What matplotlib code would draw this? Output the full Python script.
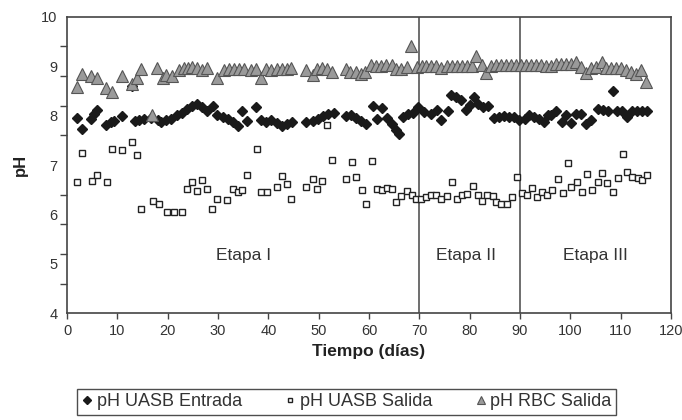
import matplotlib
matplotlib.use('Agg')
import matplotlib.pyplot as plt
import numpy as np

# 数据：pH UASB 入口 (菱形)
entrada_dia = [1.9, 3.0, 4.7, 5.4, 5.9, 7.7, 8.7, 9.3, 11.0, 13.0, 13.5, 14.3, 15.3, 16.6, 18.0, 18.6,
               19.6, 20.6, 21.9, 22.9, 23.9, 24.9, 25.9, 26.9, 27.8, 29.1, 29.9, 30.9, 31.9, 32.9, 33.9,
               34.7, 35.7, 37.5, 38.6, 39.5, 40.6, 41.8, 42.8, 43.8, 44.8, 47.5, 48.8, 49.8, 50.8, 51.8,
               53.0, 55.4, 56.4, 57.4, 58.4, 59.4, 60.7, 61.6, 62.5, 63.6, 64.5, 65.3, 66.0, 66.7, 67.7,
               68.7, 69.8, 71.0, 72.3, 73.6, 74.4, 75.6, 76.3, 77.3, 78.3, 79.3, 80.0, 80.8, 81.6, 82.6,
               83.6, 84.9, 85.9, 86.9, 87.9, 88.9, 89.9, 90.9, 91.8, 92.8, 93.8, 94.8, 95.6, 96.2, 97.1,
               98.3, 99.1, 100.1, 101.1, 102.1, 103.1, 104.1, 105.4, 106.4, 107.4, 108.4, 109.3, 110.2,
               111.3, 112.2, 113.3, 114.2, 115.2]
entrada_ph = [7.96, 7.73, 7.94, 8.04, 8.11, 7.81, 7.87, 7.89, 8.00, 8.60, 7.89, 7.91, 7.93, 7.96, 7.91, 7.86,
              7.91, 7.94, 8.01, 8.06, 8.14, 8.20, 8.24, 8.17, 8.09, 8.20, 8.02, 7.98, 7.94, 7.86, 7.78,
              8.09, 7.89, 8.18, 7.91, 7.86, 7.91, 7.84, 7.79, 7.82, 7.86, 7.86, 7.89, 7.94, 8.00, 8.04,
              8.06, 8.00, 8.01, 7.96, 7.89, 7.82, 8.20, 7.93, 8.16, 7.96, 7.82, 7.71, 7.62, 7.98, 8.03,
              8.06, 8.18, 8.08, 8.03, 8.11, 7.91, 8.09, 8.41, 8.38, 8.31, 8.11, 8.21, 8.38, 8.24, 8.18,
              8.20, 7.96, 7.98, 8.00, 7.98, 7.98, 7.91, 7.94, 8.01, 7.98, 7.93, 7.87, 8.01, 8.01, 8.09,
              7.86, 8.01, 7.84, 8.03, 8.04, 7.82, 7.91, 8.13, 8.11, 8.09, 8.49, 8.09, 8.09,
              7.98, 8.09, 8.09, 8.09, 8.09]

# pH UASB 出口 (空心方块)
salida_dia = [2.0, 2.9, 4.9, 5.9, 7.9, 8.9, 10.9, 12.9, 13.9, 14.8, 17.0, 18.3, 19.9, 21.3, 22.9, 23.9,
              24.9, 25.8, 26.9, 27.8, 28.9, 29.9, 31.8, 32.9, 33.9, 34.8, 35.8, 37.8, 38.5, 39.7, 41.7,
              42.7, 43.7, 44.6, 47.5, 48.8, 49.6, 50.6, 51.7, 52.6, 55.5, 56.7, 57.5, 58.7, 59.5, 60.5,
              61.5, 62.5, 63.5, 64.6, 65.4, 66.4, 67.6, 68.5, 69.4, 70.4, 71.4, 72.4, 73.4, 74.4, 75.4,
              76.5, 77.4, 78.4, 79.4, 80.6, 81.7, 82.4, 83.5, 84.6, 85.3, 86.3, 87.5, 88.4, 89.4, 90.3,
              91.4, 92.3, 93.4, 94.4, 95.4, 96.4, 97.5, 98.5, 99.5, 100.2, 101.4, 102.4, 103.4, 104.4,
              105.4, 106.3, 107.3, 108.4, 109.4, 110.4, 111.3, 112.3, 113.4, 114.3, 115.3]
salida_ph = [6.65, 7.24, 6.68, 6.80, 6.66, 7.33, 7.30, 7.46, 7.20, 6.10, 6.28, 6.21, 6.04, 6.04, 6.04, 6.51,
             6.65, 6.48, 6.69, 6.52, 6.12, 6.32, 6.30, 6.52, 6.45, 6.49, 6.80, 7.32, 6.45, 6.45, 6.56,
             6.77, 6.61, 6.32, 6.55, 6.72, 6.51, 6.67, 7.81, 7.11, 6.72, 7.07, 6.76, 6.49, 6.21, 7.08,
             6.51, 6.49, 6.54, 6.51, 6.25, 6.38, 6.48, 6.40, 6.32, 6.32, 6.36, 6.40, 6.40, 6.31, 6.38,
             6.66, 6.31, 6.40, 6.41, 6.57, 6.39, 6.27, 6.39, 6.37, 6.25, 6.22, 6.22, 6.36, 6.75, 6.44,
             6.39, 6.53, 6.35, 6.45, 6.40, 6.49, 6.71, 6.44, 7.05, 6.56, 6.65, 6.46, 6.82, 6.50,
             6.66, 6.83, 6.63, 6.46, 6.73, 7.23, 6.86, 6.76, 6.74, 6.70, 6.80]

# pH RBC 出口 (三角)
rbc_dia = [1.9, 3.0, 4.7, 5.9, 7.7, 9.0, 11.0, 13.0, 13.9, 14.8, 16.8, 17.8, 19.0, 19.6, 20.9, 22.3,
           23.3, 24.1, 24.9, 25.9, 26.9, 27.8, 29.8, 31.2, 32.2, 33.2, 34.2, 35.2, 36.5, 37.5, 38.6,
           39.6, 40.5, 41.8, 42.8, 43.8, 44.6, 47.5, 48.8, 49.6, 50.6, 51.6, 52.7, 55.4, 56.3, 57.4,
           58.4, 59.3, 60.4, 61.4, 62.4, 63.4, 64.5, 65.4, 66.4, 67.5, 68.4, 69.6, 70.6, 71.4, 72.4,
           73.4, 74.4, 75.4, 76.4, 77.4, 78.4, 79.4, 80.4, 81.2, 82.4, 83.3, 84.2, 85.2, 86.2, 87.2,
           88.2, 89.2, 90.2, 91.2, 92.2, 93.2, 94.2, 95.2, 96.2, 97.1, 98.1, 99.1, 100.1, 101.1, 102.1,
           103.1, 104.1, 105.1, 106.2, 107.1, 108.1, 109.1, 110.1, 111.1, 112.1, 113.1, 114.0, 115.0]
rbc_ph = [8.58, 8.84, 8.81, 8.77, 8.56, 8.48, 8.80, 8.64, 8.77, 8.94, 8.01, 8.96, 8.76, 8.83, 8.80, 8.92,
          8.96, 8.97, 8.99, 8.96, 8.92, 8.96, 8.75, 8.92, 8.94, 8.94, 8.94, 8.94, 8.92, 8.95, 8.77,
          8.94, 8.93, 8.94, 8.95, 8.95, 8.96, 8.93, 8.82, 8.94, 8.96, 8.95, 8.89, 8.95, 8.89, 8.88,
          8.84, 8.88, 9.03, 9.01, 9.01, 9.02, 9.02, 8.95, 8.95, 8.98, 9.40, 8.98, 9.01, 9.01, 9.01,
          9.01, 8.96, 9.01, 9.01, 9.01, 9.01, 9.01, 9.00, 9.21, 9.02, 8.86, 9.01, 9.02, 9.02, 9.02,
          9.02, 9.02, 9.02, 9.02, 9.02, 9.02, 9.02, 9.00, 9.01, 9.04, 9.04, 9.04, 9.05, 9.09, 8.99,
          8.86, 8.97, 8.99, 9.08, 8.97, 8.96, 8.96, 8.96, 8.92, 8.88, 8.84, 8.92, 8.68]

etapas = ['Etapa I', 'Etapa II', 'Etapa III']
etapa_x = [35, 79.3, 105]
limites = [70, 90]

# %%
plt.rcParams['font.family'] = ['Liberation Sans', 'DejaVu Sans']
gris = '#333333'

fig = plt.figure(figsize=(6.82, 4.2), dpi=100)
ax = fig.add_axes([67 / 682, 1 - 313.3 / 420, 604 / 682, 296.6 / 420])

ax.plot(entrada_dia, entrada_ph, linestyle='none', marker='D', ms=5.5, color='#1a1a1a',
        mec='#1a1a1a', label='pH UASB Entrada', zorder=3)
ax.plot(salida_dia, salida_ph, linestyle='none', marker='s', ms=5, mfc='white',
        mec='#222222', mew=1.0, label='pH UASB Salida', zorder=3)
ax.plot(rbc_dia, rbc_ph, linestyle='none', marker='^', ms=8, mfc='#9a9a9a',
        mec='#555555', mew=0.8, label='pH RBC Salida', zorder=4)

for x in limites:
    ax.axvline(x, color='#555555', lw=1.2, zorder=2)

for t, x in zip(etapas, etapa_x):
    ax.text(x, 5.16, t, ha='center', va='center', fontsize=12.5, color=gris)

ax.set_xlim(0, 120)
ax.set_ylim(4, 10)
ax.set_xticks(np.arange(0, 121, 10))
ax.set_yticks(np.arange(4, 11, 1))
ax.set_yticks(np.linspace(4, 10, 11), minor=True)
ax.tick_params(axis='x', direction='out', length=4, width=1, colors='#444444',
               labelcolor=gris, labelsize=10.5, pad=4)
ax.tick_params(axis='y', which='major', length=0, labelcolor=gris, labelsize=10.5, pad=7)
ax.tick_params(axis='y', which='minor', direction='out', length=5, width=1, colors='#444444')

for s in ax.spines.values():
    s.set_color('#444444')
    s.set_linewidth(1.2)

ax.set_xlabel('Tiempo (días)', fontsize=12.5, fontweight='bold', color='#222222', labelpad=4)
ax.set_ylabel('pH', fontsize=12, fontweight='bold', color='#222222', labelpad=9)

leg = fig.legend(loc='center', bbox_to_anchor=(0.508, 0.043), ncol=3, frameon=True,
                 fontsize=13, handlelength=0.7, handletextpad=0.2, columnspacing=2.3,
                 borderpad=0.25, fancybox=False, markerscale=0.7)
leg.get_frame().set_edgecolor('#222222')
leg.get_frame().set_linewidth(1.0)
for t in leg.get_texts():
    t.set_color(gris)

plt.savefig('out.png', dpi=100)
